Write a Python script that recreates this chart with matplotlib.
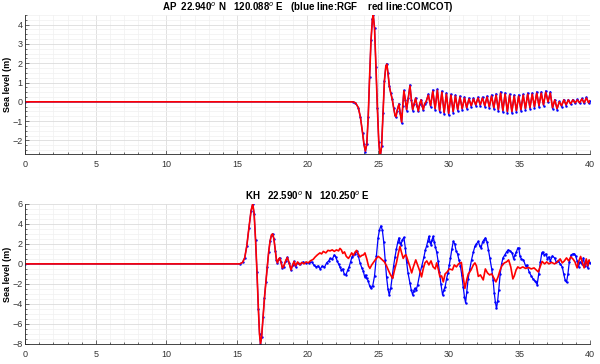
import numpy as np
import matplotlib
matplotlib.use("Agg")
import matplotlib.pyplot as plt
from matplotlib.ticker import MultipleLocator

plt.rcParams['font.family'] = ['Liberation Sans', 'DejaVu Sans']

# ---- AP station (top panel): time in minutes, sea level in m ----
ap_time = [0, 23.2, 23.4, 23.6, 23.75, 23.9, 24.0, 24.1, 24.2, 24.3, 24.4, 24.5, 24.6, 24.66,
           24.75, 24.85, 24.95, 25.05, 25.15, 25.25, 25.35, 25.45, 25.55, 25.62, 25.7, 25.8,
           25.9, 26.0, 26.1, 26.2, 26.27, 26.35, 26.48, 26.57, 26.67, 26.75, 26.83, 26.93,
           27.02, 27.14, 27.26, 27.36, 27.45, 27.56, 27.66, 27.76, 27.85, 27.95, 28.05, 28.13,
           28.2, 28.3,
           28.4, 28.56, 28.72, 28.88, 29.04, 29.2, 29.36, 29.52, 29.68, 29.84, 30.0, 30.16,
           30.32, 30.48, 30.64, 30.8, 30.96, 31.12, 31.28, 31.44, 31.6, 31.76, 31.92, 32.08,
           32.24, 32.4, 32.56, 32.72, 32.88, 33.04, 33.2, 33.36, 33.52, 33.68, 33.84, 34.0,
           34.16, 34.32, 34.48, 34.64, 34.8, 34.96, 35.12, 35.28, 35.44, 35.6, 35.76, 35.92,
           36.08, 36.24, 36.4, 36.56, 36.72, 36.88, 37.04, 37.2, 37.36, 37.52, 37.68, 37.84,
           38.0, 38.16, 38.32, 38.48, 38.64, 38.8, 38.96, 39.12, 39.28, 39.44, 39.6, 39.76,
           39.92, 40.0]
ap_red = [0, 0, -0.05, -0.3, -0.8, -1.6, -2.2, -2.55, -2.2, -0.8, 1.3, 3.2, 4.3, 4.48,
          3.8, 1.8, -0.3, -2.1, -2.85, -2.3, -0.6, 1.1, 1.85, 1.95, 1.5, 0.8,
          0.45, 0.15, -0.3, -0.7, -0.78, -0.45, -0.12, -0.6, -1.05, -0.2, 0.57, 0.1,
          -0.4, 0.2, 0.83, 0.1, -0.4, -0.1, 0.19, -0.2, -0.48, -0.1, 0.1, -0.2,
          -0.4, -0.1,
          0.0, 0.35, -0.2, 0.55, -0.35, 0.6, -0.45, 0.5, -0.55, 0.4, -0.6, 0.35,
          -0.5, 0.3, -0.4, 0.25, -0.35, 0.2, -0.3, 0.15, -0.2, 0.15, -0.15, 0.2,
          -0.15, 0.2, -0.2, 0.25, -0.25, 0.3, -0.3, 0.35, -0.4, 0.45, -0.45, 0.4,
          -0.5, 0.35, -0.5, 0.3, -0.45, 0.3, -0.4, 0.35, -0.35, 0.4, -0.3, 0.4,
          -0.25, 0.45, -0.2, 0.45, -0.15, 0.5, 0.0, 0.45, -0.3, 0.1, -0.35, 0.0,
          -0.2, 0.1, -0.15, 0.1, -0.1, 0.1, -0.05, 0.1, -0.05, 0.15, -0.05, 0.2,
          -0.05, 0.05]
ap_blue = [0, 0, -0.05, -0.3, -0.8, -1.6, -2.2, -2.6, -2.2, -0.8, 1.3, 3.2, 4.3, 4.5,
           3.8, 1.8, -0.3, -2.1, -2.9, -2.3, -0.6, 1.1, 1.85, 1.98, 1.5, 0.8,
           0.45, 0.15, -0.3, -0.7, -0.8, -0.45, -0.1, -0.6, -1.1, -0.2, 0.6, 0.1,
           -0.45, 0.2, 0.88, 0.1, -0.45, -0.1, 0.2, -0.2, -0.5, -0.1, 0.12, -0.2,
           -0.42, -0.1,
           0.0, 0.4, -0.25, 0.62, -0.4, 0.66, -0.52, 0.56, -0.62, 0.46, -0.67, 0.4,
           -0.56, 0.35, -0.46, 0.3, -0.4, 0.25, -0.35, 0.2, -0.25, 0.2, -0.2, 0.25,
           -0.2, 0.25, -0.25, 0.3, -0.3, 0.36, -0.36, 0.42, -0.47, 0.52, -0.52, 0.47,
           -0.57, 0.4, -0.57, 0.36, -0.52, 0.36, -0.46, 0.4, -0.4, 0.46, -0.35, 0.46,
           -0.3, 0.52, -0.25, 0.52, -0.2, 0.57, -0.02, 0.52, -0.36, 0.12, -0.4, 0.02,
           -0.25, 0.12, -0.2, 0.12, -0.13, 0.12, -0.08, 0.13, -0.08, 0.18, -0.08, 0.24,
           -0.08, 0.05]

# ---- KH station (bottom panel) ----
kh_front_t = [0, 15.2, 15.4, 15.55, 15.7, 15.85, 16.0, 16.12, 16.22, 16.32, 16.42, 16.52,
              16.6, 16.67, 16.75, 16.85, 16.95, 17.05, 17.15, 17.25, 17.35, 17.45, 17.53,
              17.62, 17.72, 17.8, 17.87, 17.95, 18.03, 18.12, 18.22, 18.3, 18.45, 18.57,
              18.7, 18.83, 18.95, 19.05]
kh_front_v = [0, 0, 0.15, 0.6, 1.8, 3.6, 5.3, 6.0, 5.0, 2.4, -0.8, -4.5,
              -7.0, -8.0, -7.3, -5.3, -3.4, -1.8, -0.3, 1.2, 2.3, 2.9, 3.0,
              2.5, 1.3, 0.4, 0.1, 0.45, 0.6, 0.2, -0.4, -0.3, 0.3, 0.65,
              0.1, -0.6, -0.1, 0.25]

kh_red_t = [19.15, 19.3, 19.45, 19.6, 19.75, 19.9, 20.05, 20.2, 20.4, 20.55, 20.7, 20.88,
            21.0, 21.12, 21.3, 21.45, 21.6, 21.75, 21.9, 22.05, 22.2, 22.3, 22.4, 22.5,
            22.62, 22.75, 22.9, 23.02, 23.13, 23.25, 23.38, 23.48, 23.6, 23.72, 23.85,
            23.97, 24.07, 24.2, 24.32, 24.42, 24.55, 24.7, 24.85, 25.01, 25.15, 25.3,
            25.45, 25.6, 25.72, 25.85, 26.03, 26.15, 26.3, 26.43, 26.55, 26.65, 26.78,
            26.9, 26.98, 27.1, 27.26, 27.38, 27.5, 27.67, 27.8, 27.95, 28.08, 28.2,
            28.32, 28.45, 28.6, 28.75, 28.9, 29.05, 29.15, 29.28, 29.38, 29.5, 29.62,
            29.75, 29.9, 30.05, 30.27, 30.4, 30.55, 30.7, 30.9, 31.02, 31.15, 31.28,
            31.39, 31.5, 31.62, 31.75, 31.86, 31.97, 32.1, 32.25, 32.45,
            32.6, 32.75, 32.9, 33.05, 33.2, 33.35, 33.5, 33.65, 33.8, 33.95, 34.1,
            34.25, 34.4, 34.55, 34.65, 34.78, 34.9, 35.05, 35.25, 35.45, 35.65, 35.85,
            36.05, 36.2, 36.35, 36.5, 36.62, 36.8, 36.95, 37.1, 37.3, 37.5, 37.7, 37.9,
            38.05, 38.2, 38.35, 38.5, 38.65, 38.8, 38.95, 39.1, 39.2, 39.35, 39.5,
            39.6, 39.75, 39.85, 39.95, 40.0]
kh_red_v = [-0.2, 0.2, -0.1, 0.15, 0.0, 0.2, 0.1, 0.3, 0.45, 0.7, 0.9, 1.1,
            1.0, 1.25, 1.1, 1.35, 1.3, 1.4, 1.25, 1.4, 1.3, 1.55, 1.4, 1.05,
            1.2, 0.75, 0.55, 0.8, 1.1, 0.85, 1.2, 1.35, 1.0, 0.7, 0.85,
            0.9, 1.1, 0.5, -0.2, -0.45, -0.1, 0.2, 0.5, 0.75, 0.6, 0.4,
            0.2, -0.2, -0.6, -1.0, -1.45, -0.7, 0.1, 1.0, 1.75, 1.2, 0.55,
            0.85, 0.9, 0.4, -0.3, -0.9, -0.3, 0.4, -0.1, -0.7, -1.3, -0.5,
            0.1, 0.3, -0.1, 0.3, -0.3, -0.5, 0.1, -0.6, -1.3, -1.2, -1.8,
            -1.0, -0.8, -0.5, -0.6, -0.1, -0.3, 0.0, 0.15, -1.2, -2.45, -1.6,
            -1.0, -0.8, -0.5, -0.1, 0.1, -0.2, -1.25, -1.1, -1.6,
            -0.5, -0.9, -1.1, -1.0, -1.4, -1.8, -1.3, -0.6, -0.1, 0.1, 0.2,
            0.4, -0.3, -1.5, -1.2, -0.6, -0.3, -0.45, -0.3, -0.45, -0.35, -0.5,
            -0.4, -0.6, -0.8, -0.2, 0.25, 0.0, 0.2, 0.0, 0.15, 0.0, 0.2, 0.5,
            0.1, 0.3, 0.6, 0.3, 0.7, 0.5, 0.2, -0.4, 0.2, 0.75, 0.0,
            -0.4, 0.5, -0.2, 0.4, 0.3]

kh_blue_t = [19.15, 19.3, 19.5, 19.7, 19.9, 20.1, 20.3, 20.45, 20.6, 20.75, 20.9, 21.05,
             21.2, 21.35, 21.5, 21.6, 21.75, 21.9, 22.0, 22.1, 22.2, 22.3, 22.4, 22.5,
             22.6, 22.73, 22.85, 22.95, 23.05, 23.15, 23.24, 23.36, 23.48, 23.6, 23.72,
             23.85, 23.95, 24.05, 24.12, 24.19, 24.3, 24.4, 24.5, 24.62, 24.75, 24.88,
             25.0, 25.1, 25.2, 25.3, 25.4, 25.5, 25.6, 25.7, 25.79, 25.9, 26.0, 26.1,
             26.2, 26.3, 26.4, 26.48, 26.56, 26.62, 26.72, 26.83, 26.93, 27.02, 27.12,
             27.26, 27.35, 27.45, 27.52, 27.6, 27.7, 27.8, 27.96, 28.1, 28.25, 28.35,
             28.44, 28.52, 28.6, 28.68, 28.75, 28.82, 28.9, 28.98, 29.06, 29.15, 29.25,
             29.35, 29.45, 29.57, 29.66, 29.75, 29.85, 29.95, 30.05, 30.13, 30.23, 30.33,
             30.43, 30.53, 30.63, 30.73, 30.83, 30.93, 31.03, 31.12, 31.2, 31.28, 31.38,
             31.5, 31.62, 31.75, 31.86, 31.97, 32.1, 32.2, 32.3, 32.4, 32.5, 32.61,
             32.72, 32.82, 32.92, 33.05, 33.15, 33.23, 33.31, 33.39, 33.47, 33.55, 33.65,
             33.75, 33.85, 33.98, 34.1, 34.22, 34.35, 34.5, 34.6, 34.7, 34.8, 34.9,
             34.97, 35.05, 35.15, 35.3, 35.45, 35.55, 35.7, 35.85, 35.98, 36.1, 36.2,
             36.27, 36.38, 36.5, 36.6, 36.65, 36.78, 36.9, 37.0, 37.1, 37.2, 37.35,
             37.5, 37.62, 37.75, 37.9, 38.05, 38.15, 38.25, 38.35, 38.45, 38.55, 38.68,
             38.8, 38.9, 39.0, 39.1, 39.2, 39.3, 39.45, 39.55, 39.65, 39.75, 39.85,
             39.95, 40.0]
kh_blue_v = [-0.3, 0.1, 0.0, 0.2, 0.05, 0.1, 0.2, -0.1, -0.3, -0.2, -0.5, -0.2,
             -0.35, 0.1, 0.3, 0.55, 0.45, 0.9, 0.7, 0.3, 0.0, -0.3, -0.6, -0.5,
             -1.0, -1.1, -0.6, -0.3, 0.2, 0.7, 0.9, 1.0, 1.25, 0.8, 0.1,
             -0.4, -0.7, -1.3, -1.1, -1.45, -1.7, -2.2, -2.45, -2.2, -1.2, 0.8,
             2.6, 3.4, 3.8, 3.4, 2.2, 0.4, -1.3, -2.5, -3.1, -2.4, -1.3, -0.2,
             0.7, 1.5, 2.2, 2.6, 2.1, 1.9, 2.4, 2.65, 1.6, 0.2, -0.9,
             -1.95, -2.6, -3.1, -2.7, -2.45, -2.6, -2.1, -0.95, -0.2, 0.7, 1.4,
             1.8, 2.3, 2.75, 2.2, 1.9, 2.4, 2.75, 2.2, 1.7, 1.2, 0.3,
             -0.8, -2.0, -3.1, -2.6, -2.3, -1.5, -0.9, -0.1, 0.6, 1.5, 2.25,
             2.0, 1.3, 1.0, 0.4, -0.2, -1.1, -2.3, -3.3, -3.9, -2.8, -1.5,
             -0.5, 0.4, 1.2, 1.75, 2.0, 2.25, 1.8, 1.6, 2.2, 2.4, 2.6,
             2.2, 1.4, 0.6, -0.5, -1.6, -2.9, -3.8, -4.45, -3.7, -2.6, -1.0,
             0.0, 0.6, 0.9, 1.2, 1.4, 1.3, 1.1, 0.5, 0.9, 1.2, 1.6,
             1.55, 0.8, 0.5, 0.4, -0.2, -0.1, -0.8, -1.2, -1.5, -1.7, -1.8,
             -2.1, -1.0, 0.2, 1.1, 1.2, 0.9, 1.0, 0.5, 0.7, 0.3, 0.8,
             0.6, 0.2, 0.3, 0.0, -0.3, -1.0, -1.6, -1.85, -1.0, 0.2, 0.9,
             1.0, 1.0, 0.8, 0.3, -0.3, 0.2, 0.0, 0.6, -0.2, 0.3, -0.4,
             0.2, 0.1]

kh_red_time = kh_front_t + kh_red_t
kh_red = kh_front_v + kh_red_v
kh_blue_time = kh_front_t + kh_blue_t
kh_blue = kh_front_v + kh_blue_v

ap_title = r'AP  22.940$^{o}$ N   120.088$^{o}$ E   (blue line:RGF    red line:COMCOT)'
kh_title = r'KH   22.590$^{o}$ N   120.250$^{o}$ E'


def style_axes(ax, ylim, ymajor, yminor):
    ax.set_xlim(0, 40)
    ax.set_ylim(*ylim)
    ax.xaxis.set_major_locator(MultipleLocator(5))
    ax.xaxis.set_minor_locator(MultipleLocator(1))
    ax.yaxis.set_major_locator(MultipleLocator(ymajor))
    ax.yaxis.set_minor_locator(MultipleLocator(yminor))
    ax.grid(which='major', color='#dcdcdc', linewidth=0.6)
    ax.grid(which='minor', color='#f0f0f0', linewidth=0.5)
    ax.set_axisbelow(True)
    for s in ('top', 'right'):
        ax.spines[s].set_visible(False)
    for s in ('left', 'bottom'):
        ax.spines[s].set_color('#262626')
        ax.spines[s].set_linewidth(0.6)
    ax.tick_params(which='both', direction='in', labelsize=6.5, colors='#333333',
                   width=0.5)
    ax.tick_params(axis='y', pad=2)
    ax.tick_params(axis='x', pad=4)
    ax.tick_params(which='major', length=3)
    ax.tick_params(which='minor', length=1.5)
    ax.set_ylabel('Sea level (m)', fontsize=6.5, fontweight='bold', labelpad=0)


fig = plt.figure(figsize=(6, 3.64), dpi=100)
ax1 = fig.add_axes([0.042, 0.577, 0.941, 0.382])
ax2 = fig.add_axes([0.042, 0.055, 0.941, 0.385])

ax1.plot(ap_time, ap_blue, '.-', color='blue', linewidth=0.9, markersize=1.5)
ax1.plot(ap_time, ap_red, '-', color='red', linewidth=1.2)
style_axes(ax1, (-2.7, 4.5), 1, 0.25)
ax1.set_title(ap_title, fontsize=7, fontweight='bold', pad=3)

ax2.plot(kh_blue_time, kh_blue, '.-', color='blue', linewidth=0.9, markersize=1.5)
ax2.plot(kh_red_time, kh_red, '-', color='red', linewidth=1.2)
style_axes(ax2, (-8, 6), 2, 0.5)
ax2.set_title(kh_title, fontsize=7, fontweight='bold', pad=3)

fig.savefig('out.png', dpi=100)
